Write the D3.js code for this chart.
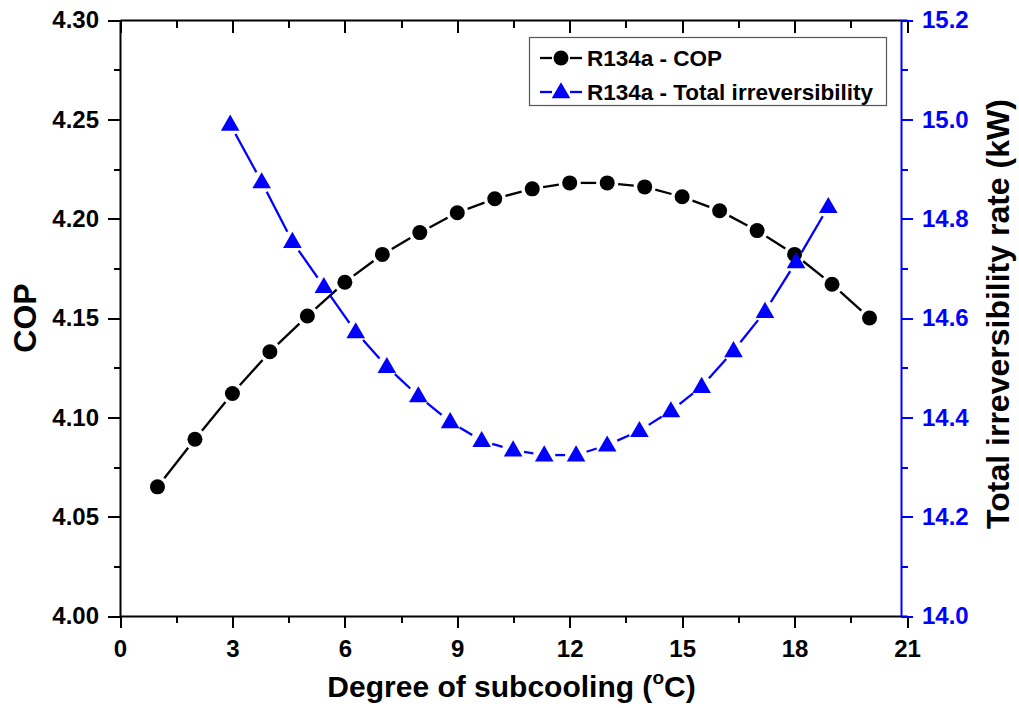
<!DOCTYPE html>
<html>
<head>
<meta charset="utf-8">
<script src="https://cdn.jsdelivr.net/npm/d3@7"></script>
<style>
  html, body { margin: 0; padding: 0; background: #fff; }
  svg { display: block; font-family: "Liberation Sans", Arial, sans-serif; font-weight: bold; }
</style>
</head>
<body>
<svg id="chart" width="1019" height="708"></svg>
<script>
// ---- data ----
const copX = [1,2,3,4,5,6,7,8,9,10,11,12,13,14,15,16,17,18,19,20];
const copY = [4.065,4.089,4.112,4.133,4.151,4.168,4.182,4.193,4.203,4.210,4.215,4.218,4.218,4.216,4.211,4.204,4.194,4.182,4.167,4.150];
const irrX = [2.94,3.78,4.60,5.44,6.29,7.12,7.96,8.81,9.65,10.49,11.32,12.17,13.00,13.86,14.70,15.52,16.37,17.21,18.04,18.90];
const irrY = [14.99,14.874,14.754,14.663,14.572,14.502,14.443,14.391,14.353,14.334,14.324,14.324,14.344,14.373,14.413,14.462,14.534,14.613,14.713,14.824];
const xTicks = [0,3,6,9,12,15,18,21];
const leftTicks = [4.00,4.05,4.10,4.15,4.20,4.25,4.30];
const rightTicks = [14.0,14.2,14.4,14.6,14.8,15.0,15.2];
const seriesNames = ["R134a - COP","R134a - Total irreversibility"];

const svg = d3.select("#chart");
const L = 120, R = 907, T = 20, B = 616, RA = 901;
const x = d3.scaleLinear().domain([0,21]).range([L,R]);
const yL = d3.scaleLinear().domain([4.0,4.3]).range([B,T]);
const yR = d3.scaleLinear().domain([14.0,15.2]).range([B,T]);
const blue = "#0000ff";
const FONT = "Liberation Sans, Arial";
const TICKFS = 24;

// minor tick values
const xMinor = d3.range(1.5, 21, 3);
const lMinor = d3.range(4.025, 4.3, 0.05);
const rMinor = d3.range(14.1, 15.2, 0.2);

// bottom axis
const gB = svg.append("g").attr("transform",`translate(0,${B})`)
  .call(d3.axisBottom(x).tickValues(xTicks).tickFormat(d3.format("d")).tickSize(12).tickSizeOuter(0).tickPadding(12));
gB.selectAll("text").attr("font-size",TICKFS).attr("font-weight","bold").attr("font-family",FONT).attr("fill","#000");
const gBm = svg.append("g").attr("transform",`translate(0,${B})`)
  .call(d3.axisBottom(x).tickValues(xMinor).tickFormat("").tickSize(7).tickSizeOuter(0));
gBm.select(".domain").remove();

// top axis (ticks inward)
const gT = svg.append("g").attr("transform",`translate(0,${T})`)
  .call(d3.axisBottom(x).tickValues(xTicks).tickFormat("").tickSize(13).tickSizeOuter(0));
const gTm = svg.append("g").attr("transform",`translate(0,${T})`)
  .call(d3.axisBottom(x).tickValues(xMinor).tickFormat("").tickSize(8).tickSizeOuter(0));
gTm.select(".domain").remove();

// left axis
const gL = svg.append("g").attr("transform",`translate(${L},0)`)
  .call(d3.axisLeft(yL).tickValues(leftTicks).tickFormat(d3.format(".2f")).tickSize(12).tickSizeOuter(0).tickPadding(9));
gL.selectAll("text").attr("font-size",TICKFS).attr("font-weight","bold").attr("font-family",FONT).attr("fill","#000");
const gLm = svg.append("g").attr("transform",`translate(${L},0)`)
  .call(d3.axisLeft(yL).tickValues(lMinor).tickFormat("").tickSize(6).tickSizeOuter(0));
gLm.select(".domain").remove();

// right axis (blue)
const gR = svg.append("g").attr("transform",`translate(${RA},0)`)
  .call(d3.axisRight(yR).tickValues(rightTicks).tickFormat(d3.format(".1f")).tickSize(12).tickSizeOuter(0).tickPadding(9));
gR.selectAll("text").attr("font-size",TICKFS).attr("font-weight","bold").attr("font-family",FONT).attr("fill",blue);
gR.selectAll("line").attr("stroke",blue);
gR.select(".domain").attr("stroke",blue);
const gRm = svg.append("g").attr("transform",`translate(${RA},0)`)
  .call(d3.axisRight(yR).tickValues(rMinor).tickFormat("").tickSize(7).tickSizeOuter(0));
gRm.select(".domain").remove();
gRm.selectAll("line").attr("stroke",blue);

svg.selectAll(".domain, .tick line").attr("stroke-width",2);
svg.selectAll(".tick line").attr("shape-rendering","crispEdges");

// axis titles
svg.append("text").attr("x",(L+R)/2 - 2).attr("y",697).attr("text-anchor","middle")
  .attr("font-size",30).attr("fill","#000")
  .html('Degree of subcooling (<tspan font-size="19" dy="-13">o</tspan><tspan dy="13">C)</tspan>');
svg.append("text").attr("transform",`translate(36,${(T+B)/2}) rotate(-90)`).attr("text-anchor","middle")
  .attr("font-size",32).attr("fill","#000").text("COP");
svg.append("text").attr("transform",`translate(1009,${(T+B)/2 - 4}) rotate(-90)`).attr("text-anchor","middle")
  .attr("font-size",32).attr("fill","#000").text("Total irreversibility rate (kW)");

// gapped polyline helper
function gapped(g, pts, gap, color) {
  for (let i = 0; i < pts.length - 1; i++) {
    const [x1,y1] = pts[i], [x2,y2] = pts[i+1];
    const dx = x2-x1, dy = y2-y1, len = Math.hypot(dx,dy);
    if (len <= 2*gap) continue;
    const ux = dx/len, uy = dy/len;
    g.append("line").attr("x1",x1+ux*gap).attr("y1",y1+uy*gap)
      .attr("x2",x2-ux*gap).attr("y2",y2-uy*gap)
      .attr("stroke",color).attr("stroke-width",2.3);
  }
}

const tri = d3.symbol().type(d3.symbolTriangle).size(150);

// COP series
const copPts = copX.map((d,i)=>[x(d), yL(copY[i])]);
const gC = svg.append("g");
gapped(gC, copPts, 11, "#000");
gC.selectAll("circle").data(copPts).join("circle")
  .attr("cx",d=>d[0]).attr("cy",d=>d[1]).attr("r",7.5).attr("fill","#000");

// Irreversibility series
const irrPts = irrX.map((d,i)=>[x(d), yR(irrY[i])]);
const gI = svg.append("g");
gapped(gI, irrPts, 11, blue);
gI.selectAll("path").data(irrPts).join("path")
  .attr("d",tri).attr("transform",d=>`translate(${d[0]},${d[1]+1})`).attr("fill",blue);

// legend
const lg = svg.append("g");
lg.append("rect").attr("x",529.5).attr("y",37.5).attr("width",357).attr("height",68)
  .attr("fill","#fff").attr("stroke","#555").attr("stroke-width",1.2);
const rows = [{y:58, c:"#000", m:"circle"},{y:92, c:blue, m:"tri"}];
rows.forEach((r,i)=>{
  lg.append("line").attr("x1",540).attr("x2",552).attr("y1",r.y).attr("y2",r.y).attr("stroke",r.c).attr("stroke-width",2.3);
  lg.append("line").attr("x1",570).attr("x2",582).attr("y1",r.y).attr("y2",r.y).attr("stroke",r.c).attr("stroke-width",2.3);
  if (r.m==="circle") lg.append("circle").attr("cx",561).attr("cy",r.y).attr("r",7.5).attr("fill",r.c);
  else lg.append("path").attr("d",tri).attr("transform",`translate(561,${r.y+1})`).attr("fill",r.c);
  lg.append("text").attr("x",587).attr("y",r.y+8).attr("font-size",22.5).attr("fill","#000").text(seriesNames[i]);
});
</script>
</body>
</html>
